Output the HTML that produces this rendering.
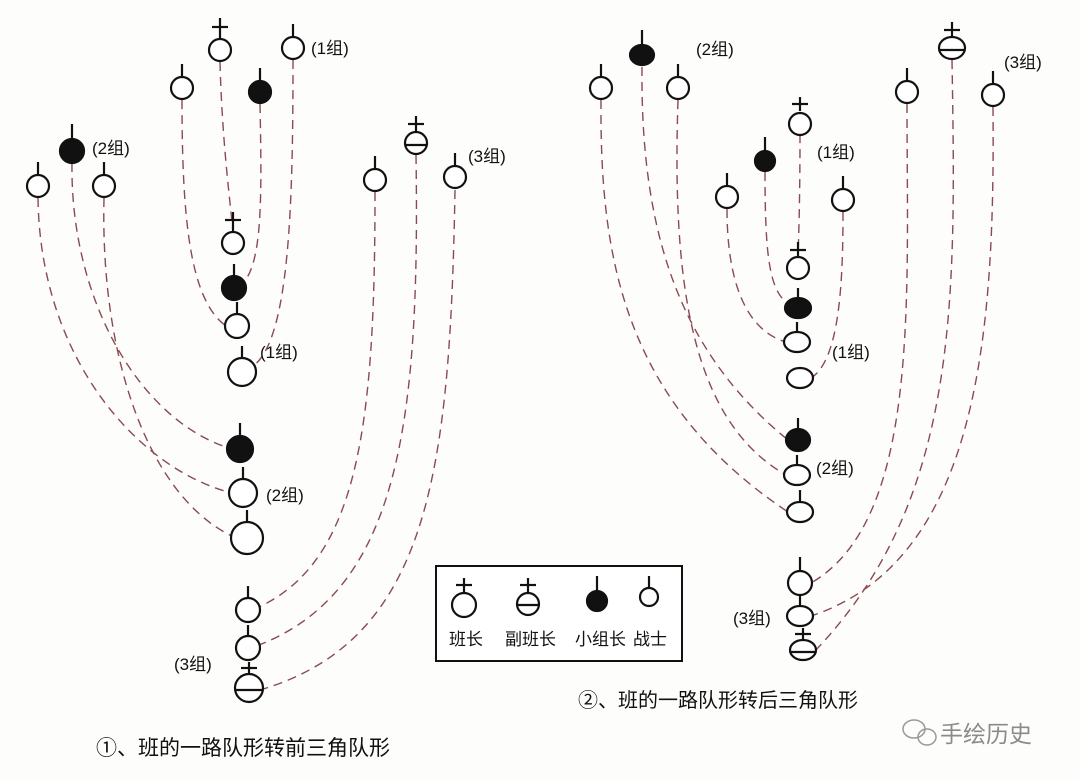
<!DOCTYPE html>
<html><head><meta charset="utf-8"><style>
html,body{margin:0;padding:0;background:#fdfdfb;}
svg{display:block;}
text{font-family:"Liberation Sans","Noto Sans CJK SC",sans-serif;fill:#111;}
</style></head><body>
<svg width="1080" height="780" viewBox="0 0 1080 780" xmlns="http://www.w3.org/2000/svg">
<rect width="1080" height="780" fill="#fdfdfb"/>
<g fill="none" stroke="#8a4a52" stroke-width="1.4" stroke-dasharray="9 6">
<path d="M182 100 C182 220 190 300 226 326"/>
<path d="M220 62 C222 140 230 200 233 232"/>
<path d="M260 104 C262 200 262 260 244 282"/>
<path d="M293 60 C293 200 290 340 253 366"/>
<path d="M72 163 C70 300 140 420 229 448"/>
<path d="M38 198 C40 360 140 470 232 493"/>
<path d="M104 198 C100 360 150 500 236 538"/>
<path d="M375 192 C375 420 360 560 259 607"/>
<path d="M416 155 C420 420 400 590 259 645"/>
<path d="M455 190 C450 470 430 640 260 690"/>
<path d="M727 209 C727 280 745 330 786 342"/>
<path d="M765 172 C765 260 770 290 788 304"/>
<path d="M800 134 C800 190 799 230 798 256"/>
<path d="M843 212 C843 280 840 360 811 378"/>
<path d="M601 100 C600 250 620 400 788 512"/>
<path d="M642 67 C640 250 690 360 788 440"/>
<path d="M678 100 C672 280 690 420 786 475"/>
<path d="M907 104 C907 300 920 520 811 583"/>
<path d="M952 60 C956 300 960 500 814 652"/>
<path d="M993 107 C995 330 980 560 811 616"/>
</g>
<g stroke="#111" stroke-width="2.2" fill="#fff">
<line x1="182" y1="77" x2="182" y2="64"/><circle cx="182" cy="88" r="11"/>
<line x1="293" y1="37" x2="293" y2="24"/><circle cx="293" cy="48" r="11"/>
<line x1="38" y1="175" x2="38" y2="162"/><circle cx="38" cy="186" r="11"/>
<line x1="104" y1="175" x2="104" y2="162"/><circle cx="104" cy="186" r="11"/>
<line x1="375" y1="169" x2="375" y2="156"/><circle cx="375" cy="180" r="11"/>
<line x1="455" y1="166" x2="455" y2="153"/><circle cx="455" cy="177" r="11"/>
<line x1="237" y1="314" x2="237" y2="302"/><circle cx="237" cy="326" r="12"/>
<line x1="242" y1="358" x2="242" y2="346"/><circle cx="242" cy="372" r="14"/>
<line x1="243" y1="479" x2="243" y2="467"/><circle cx="243" cy="493" r="14"/>
<line x1="247" y1="522" x2="247" y2="510"/><circle cx="247" cy="538" r="16"/>
<line x1="248" y1="598" x2="248" y2="586"/><circle cx="248" cy="610" r="12"/>
<line x1="248" y1="636" x2="248" y2="625"/><circle cx="248" cy="648" r="12"/>
<line x1="601" y1="77" x2="601" y2="64"/><circle cx="601" cy="88" r="11"/>
<line x1="678" y1="77" x2="678" y2="64"/><circle cx="678" cy="88" r="11"/>
<line x1="907" y1="81" x2="907" y2="68"/><circle cx="907" cy="92" r="11"/>
<line x1="993" y1="84" x2="993" y2="71"/><circle cx="993" cy="95" r="11"/>
<line x1="727" y1="186" x2="727" y2="173"/><circle cx="727" cy="197" r="11"/>
<line x1="843" y1="189" x2="843" y2="176"/><circle cx="843" cy="200" r="11"/>
<line x1="797" y1="332" x2="797" y2="322"/><ellipse cx="797" cy="342" rx="13" ry="10"/>
<ellipse cx="800" cy="378" rx="13" ry="10"/>
<line x1="797" y1="465" x2="797" y2="455"/><ellipse cx="797" cy="475" rx="13" ry="10"/>
<line x1="800" y1="502" x2="800" y2="490"/><ellipse cx="800" cy="512" rx="13" ry="10"/>
<line x1="800" y1="571" x2="800" y2="557"/><circle cx="800" cy="583" r="12"/>
<line x1="800" y1="606" x2="800" y2="596"/><ellipse cx="800" cy="616" rx="13" ry="10"/>
<line x1="220" y1="39" x2="220" y2="18"/><line x1="212" y1="27" x2="228" y2="27"/><circle cx="220" cy="50" r="11"/>
<line x1="233" y1="232" x2="233" y2="212"/><line x1="225" y1="220" x2="241" y2="220"/><circle cx="233" cy="243" r="11"/>
<line x1="800" y1="111" x2="800" y2="97"/><line x1="792" y1="104" x2="808" y2="104"/><circle cx="800" cy="124" r="11"/>
<line x1="798" y1="257" x2="798" y2="242"/><line x1="790" y1="250" x2="806" y2="250"/><circle cx="798" cy="268" r="11"/>
<line x1="416" y1="132" x2="416" y2="116"/><line x1="408" y1="124" x2="424" y2="124"/><circle cx="416" cy="143" r="11"/><line x1="405" y1="145" x2="427" y2="145"/>
<line x1="249" y1="674" x2="249" y2="662"/><line x1="241" y1="668" x2="257" y2="668"/><circle cx="249" cy="688" r="14"/><line x1="235" y1="690" x2="263" y2="690"/>
<line x1="952" y1="37" x2="952" y2="22"/><line x1="944" y1="30" x2="960" y2="30"/><ellipse cx="952" cy="48" rx="13" ry="11"/><line x1="939" y1="50" x2="965" y2="50"/>
<line x1="803" y1="640" x2="803" y2="628"/><line x1="795" y1="634" x2="811" y2="634"/><ellipse cx="803" cy="650" rx="13" ry="10"/><line x1="790" y1="652" x2="816" y2="652"/>
<g fill="#111">
<line x1="260" y1="81" x2="260" y2="68"/><circle cx="260" cy="92" r="11"/>
<line x1="72" y1="139" x2="72" y2="124"/><circle cx="72" cy="151" r="12"/>
<line x1="234" y1="276" x2="234" y2="264"/><circle cx="234" cy="288" r="12"/>
<line x1="240" y1="435" x2="240" y2="423"/><circle cx="240" cy="449" r="13"/>
<line x1="642" y1="44" x2="642" y2="30"/><ellipse cx="642" cy="55" rx="12" ry="10"/>
<line x1="765" y1="150" x2="765" y2="137"/><circle cx="765" cy="161" r="10"/>
<line x1="798" y1="298" x2="798" y2="288"/><ellipse cx="798" cy="308" rx="13" ry="10"/>
<line x1="798" y1="430" x2="798" y2="418"/><ellipse cx="798" cy="440" rx="12" ry="11"/>
</g>
</g>
<g font-size="17">
<text x="311" y="54">(1组)</text>
<text x="92" y="154">(2组)</text>
<text x="468" y="162">(3组)</text>
<text x="260" y="358">(1组)</text>
<text x="266" y="501">(2组)</text>
<text x="174" y="670">(3组)</text>
<text x="696" y="55">(2组)</text>
<text x="1004" y="68">(3组)</text>
<text x="817" y="158">(1组)</text>
<text x="832" y="358">(1组)</text>
<text x="816" y="474">(2组)</text>
<text x="733" y="624">(3组)</text>
</g>
<rect x="436" y="566" width="246" height="95" fill="#fff" stroke="#111" stroke-width="2"/>
<g stroke="#111" stroke-width="2.2" fill="#fff">
<line x1="464" y1="592" x2="464" y2="578"/><line x1="456" y1="585" x2="472" y2="585"/><circle cx="464" cy="605" r="12"/>
<line x1="528" y1="592" x2="528" y2="578"/><line x1="520" y1="585" x2="536" y2="585"/><circle cx="528" cy="604" r="11"/><line x1="517" y1="605" x2="539" y2="605"/>
<line x1="597" y1="593" x2="597" y2="576"/><circle cx="597" cy="601" r="10" fill="#111"/>
<line x1="649" y1="590" x2="649" y2="576"/><circle cx="649" cy="597" r="9"/>
</g>
<g font-size="17">
<text x="449" y="645">班长</text>
<text x="505" y="645">副班长</text>
<text x="575" y="645">小组长</text>
<text x="633" y="645">战士</text>
</g>
<text x="96" y="755" font-size="21">①、班的一路队形转前三角队形</text>
<text x="578" y="707" font-size="20">②、班的一路队形转后三角队形</text>
<g fill="none" stroke="#999" stroke-width="1.5">
<ellipse cx="914" cy="729" rx="11" ry="9"/><ellipse cx="927" cy="737" rx="9" ry="8"/>
</g>
<text x="940" y="742" font-size="23" style="fill:#8a8a8a">手绘历史</text>
</svg>
</body></html>
